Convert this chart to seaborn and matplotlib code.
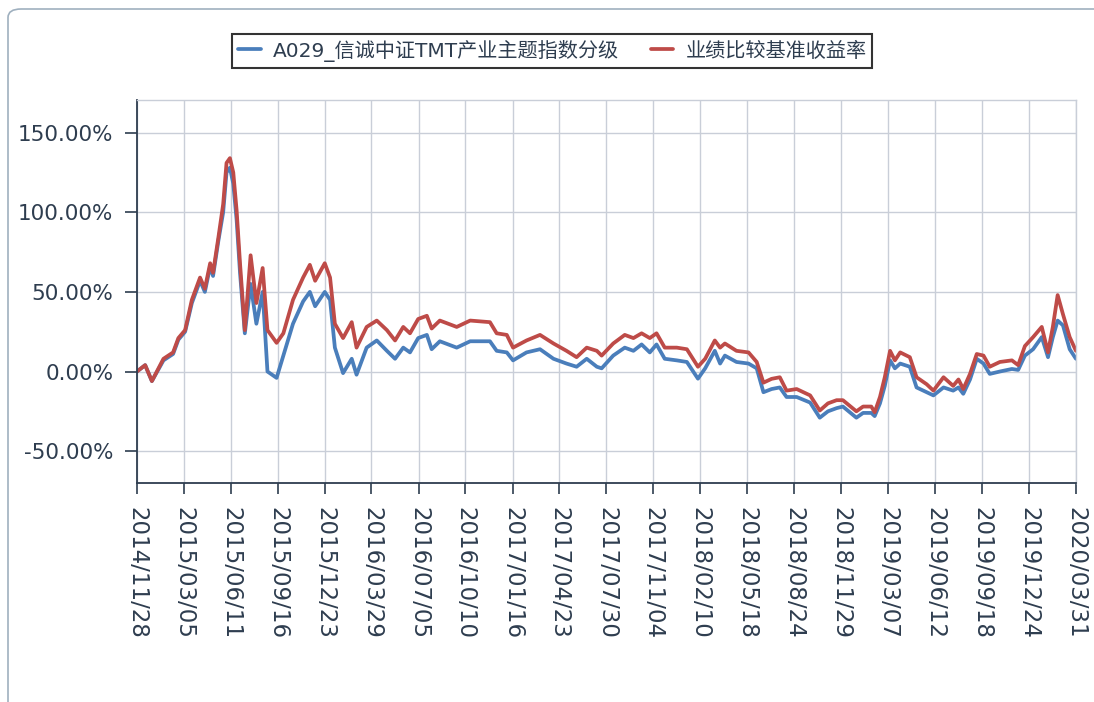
import numpy as np
import pandas as pd
import matplotlib
matplotlib.use("Agg")
import matplotlib.pyplot as plt
import matplotlib.dates as mdates
from matplotlib.patches import FancyBboxPatch
import seaborn as sns

# values (cumulative return, %)
dates = [
    "2014-11-28", "2014-12-15", "2014-12-29", "2015-01-22", "2015-02-11", "2015-02-22",
    "2015-03-08", "2015-03-22", "2015-04-08", "2015-04-18", "2015-04-29", "2015-05-05",
    "2015-05-16", "2015-05-26", "2015-06-02", "2015-06-09", "2015-06-16", "2015-06-23",
    "2015-06-30", "2015-07-10", "2015-07-22", "2015-08-03", "2015-08-16", "2015-08-26",
    "2015-09-14", "2015-09-28", "2015-10-18", "2015-11-08", "2015-11-22", "2015-12-03",
    "2015-12-23", "2016-01-03", "2016-01-13", "2016-01-30", "2016-02-17", "2016-02-27",
    "2016-03-19", "2016-04-09", "2016-04-30", "2016-05-17", "2016-06-03", "2016-06-17",
    "2016-07-04", "2016-07-22", "2016-08-01", "2016-08-18", "2016-09-22", "2016-10-20",
    "2016-11-30", "2016-12-14", "2017-01-04", "2017-01-17", "2017-02-14", "2017-03-14",
    "2017-04-11", "2017-05-08", "2017-05-29", "2017-06-19", "2017-07-10", "2017-07-20",
    "2017-08-13", "2017-09-06", "2017-09-24", "2017-10-11", "2017-10-28", "2017-11-11",
    "2017-11-28", "2017-12-23", "2018-01-13", "2018-02-05", "2018-02-20", "2018-03-12",
    "2018-03-23", "2018-04-02", "2018-04-26", "2018-05-21", "2018-06-07", "2018-06-21",
    "2018-07-08", "2018-07-25", "2018-08-08", "2018-08-29", "2018-09-26", "2018-10-16",
    "2018-11-02", "2018-11-20", "2018-12-03", "2018-12-31", "2019-01-14", "2019-01-31",
    "2019-02-07", "2019-02-18", "2019-02-28", "2019-03-11", "2019-03-21", "2019-04-01",
    "2019-04-21", "2019-05-05", "2019-05-26", "2019-06-09", "2019-06-30", "2019-07-20",
    "2019-07-31", "2019-08-10", "2019-08-24", "2019-09-07", "2019-09-21", "2019-10-04",
    "2019-10-25", "2019-11-19", "2019-12-02", "2019-12-16", "2020-01-02", "2020-01-20",
    "2020-02-02", "2020-02-12", "2020-02-22", "2020-03-04", "2020-03-18", "2020-03-31",
]

fund = [
    0, 4, -6, 7, 11, 20,
    25, 43, 57, 50, 66, 60,
    82, 100, 125, 128, 118, 95,
    62, 24, 55, 30, 50, 0,
    -4, 10, 30, 44, 50, 41,
    50, 45, 15, -1, 8, -2,
    15, 19.5, 13, 8, 15, 12,
    21, 23, 14, 19, 15, 19,
    19, 13, 12, 7, 12, 14,
    8, 5, 3, 8, 3, 2,
    10, 15, 13, 17, 12, 17,
    8, 7, 6, -4.5, 2, 13,
    5, 10, 6, 5, 2, -13,
    -11, -10, -16, -16, -19.5, -29,
    -25, -23, -22, -29, -26, -26,
    -28, -20, -9, 7, 2, 5,
    3, -10, -13, -15, -10, -12,
    -10, -14, -5, 8, 5, -1.5,
    0, 1.6, 1, 10, 14, 21.6,
    9, 21.6, 32, 29, 14, 8,
]

benchmark = [
    0, 4, -6, 8, 12, 21,
    26, 45, 59, 52, 68, 62,
    84, 105, 131, 134, 125, 101,
    68, 26, 73, 43, 65, 26,
    18, 24, 45, 59, 67, 57,
    68, 59, 30, 21, 31, 15,
    28, 32, 26, 19.5, 28, 24,
    33, 35, 27, 32, 28, 32,
    31, 24, 23, 15, 19.5, 23,
    17.6, 13, 9, 15, 13, 10,
    17.6, 23, 21, 24, 21, 24,
    15, 15, 14, 3, 8, 19.5,
    15, 17.6, 13, 12, 6, -7,
    -4.6, -3.6, -12, -11, -15, -24.5,
    -20, -18, -18, -25, -22, -22,
    -25.6, -16, -3.6, 13, 7, 12,
    9, -3.6, -8, -12, -3.6, -9,
    -5, -11, -1.5, 11, 10, 3,
    6, 7, 4, 16, 21.6, 28,
    12, 28, 48, 36, 21.6, 13,
]

tick_dates = [
    "2014-11-28", "2015-03-05", "2015-06-11", "2015-09-16", "2015-12-23",
    "2016-03-29", "2016-07-05", "2016-10-10", "2017-01-16", "2017-04-23",
    "2017-07-30", "2017-11-04", "2018-02-10", "2018-05-18", "2018-08-24",
    "2018-11-29", "2019-03-07", "2019-06-12", "2019-09-18", "2019-12-24",
    "2020-03-31",
]
y_ticks = [-50, 0, 50, 100, 150]

fund_name = "A029_信诚中证TMT产业主题指数分级"
bench_name = "业绩比较基准收益率"

df = pd.DataFrame({"date": pd.to_datetime(dates), fund_name: fund, bench_name: benchmark})
df_long = df.melt(id_vars="date", var_name="series", value_name="ret")

sns.set_theme(style="white")
plt.rcParams["font.family"] = ["DejaVu Sans", "Noto Sans CJK SC"]

text_col = "#2e3d4f"
grid_col = "#c9ced8"

fig = plt.figure(figsize=(10.94, 7.02), dpi=100)
ax = fig.add_axes([0.1252, 0.312, 0.8583, 0.5455])

# card border around the chart
card = FancyBboxPatch((8 / 1094, -0.05), 1.2, 1.0 - 9 / 702 + 0.05,
                      boxstyle="round,pad=0,rounding_size=0.012",
                      transform=fig.transFigure, facecolor="none",
                      edgecolor="#9fb0bf", linewidth=1.2, zorder=-5)
fig.patches.append(card)

sns.lineplot(data=df_long, x="date", y="ret", hue="series",
             hue_order=[fund_name, bench_name],
             palette={fund_name: "#4a7ebb", bench_name: "#be4b48"},
             linewidth=2.7, ax=ax, legend=True)

ax.set_xlim(pd.Timestamp("2014-11-28"), pd.Timestamp("2020-03-31"))
ax.set_ylim(-70, 170.5)

ax.set_xticks(pd.to_datetime(tick_dates))
ax.xaxis.set_major_formatter(mdates.DateFormatter("%Y/%m/%d"))
ax.set_yticks(y_ticks)
ax.set_yticklabels([f"{v:.2f}%" for v in y_ticks])

ax.tick_params(axis="x", labelsize=16.5, labelcolor=text_col, rotation=-90,
               length=8, width=1.2, color=text_col, pad=9, bottom=True)
ax.tick_params(axis="y", labelsize=15.5, labelcolor=text_col,
               length=9, width=1.2, color=text_col, pad=8, left=True)
for lab in ax.get_xticklabels():
    lab.set_ha("center")
    lab.set_va("top")

ax.grid(True, color=grid_col, linewidth=1.0)
ax.set_axisbelow(True)
for side in ["left", "bottom"]:
    ax.spines[side].set_color(text_col)
    ax.spines[side].set_linewidth(1.3)
for side in ["top", "right"]:
    ax.spines[side].set_color(grid_col)
    ax.spines[side].set_linewidth(1.0)

ax.set_xlabel("")
ax.set_ylabel("")

handles, labels = ax.get_legend_handles_labels()
leg = ax.legend(handles, labels, loc="center", bbox_to_anchor=(0.505, 0.928),
                bbox_transform=fig.transFigure, ncol=2, frameon=True,
                fancybox=False, edgecolor="black", fontsize=14.5,
                handlelength=1.1, handletextpad=0.6, columnspacing=1.6,
                borderpad=0.3, borderaxespad=0)
leg.get_frame().set_linewidth(1.5)
for t in leg.get_texts():
    t.set_color(text_col)

fig.savefig("out.png", dpi=100)
